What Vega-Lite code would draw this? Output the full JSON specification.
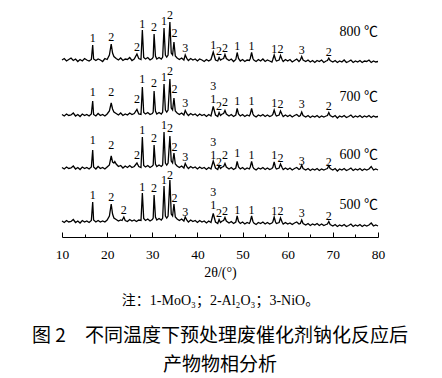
{
"$schema": "https://vega.github.io/schema/vega-lite/v6.json",
"width": 316, "height": 237,
"autosize": "none",
"padding": {"left": 62, "top": 0, "right": 64, "bottom": 141},
"background": "white",
"config": {"view": {"stroke": null}},
"title": {"text": ["图 2\u3000不同温度下预处理废催化剂钠化反应后", "产物物相分析"], "orient": "bottom", "anchor": "middle", "font": "Noto Sans CJK SC", "fontSize": 19, "fontWeight": "normal", "lineHeight": 29, "offset": 19, "color": "black"},
"datasets": {
"t800": [
{"x":10,"y":177},{"x":10.5,"y":178.5},{"x":11,"y":176},{"x":11.5,"y":177.5},{"x":12,"y":179},{"x":12.5,"y":176.5},{"x":13,"y":178},{"x":13.5,"y":175.5},{"x":14,"y":177.5},{"x":14.5,"y":176},{"x":15,"y":178.5},{"x":15.5,"y":177},{"x":16,"y":176},{"x":16.5,"y":177.5},{"x":16.8,"y":192},{"x":17,"y":178},{"x":17.5,"y":176.5},{"x":18,"y":178},{"x":18.5,"y":177},{"x":19,"y":175.5},{"x":19.5,"y":178.5},{"x":20,"y":177.5},{"x":20.5,"y":182},{"x":20.9,"y":193},{"x":21.2,"y":184},{"x":21.5,"y":180.5},{"x":22,"y":178.5},{"x":22.5,"y":177},{"x":23,"y":179},{"x":23.5,"y":176.5},{"x":24,"y":178},{"x":24.5,"y":177.5},{"x":25,"y":179.5},{"x":25.5,"y":176.5},{"x":26,"y":178},{"x":26.6,"y":183},{"x":27,"y":178.5},{"x":27.5,"y":177.5},{"x":27.8,"y":207},{"x":28.1,"y":179.5},{"x":28.5,"y":178},{"x":29,"y":179.5},{"x":29.5,"y":177},{"x":30,"y":178.5},{"x":30.2,"y":180},{"x":30.4,"y":203},{"x":30.7,"y":181},{"x":31,"y":178},{"x":31.5,"y":179.5},{"x":32,"y":178},{"x":32.3,"y":180},{"x":32.6,"y":209},{"x":32.9,"y":182},{"x":33.2,"y":180},{"x":33.5,"y":182},{"x":33.9,"y":215},{"x":34.2,"y":184},{"x":34.5,"y":182},{"x":34.8,"y":195},{"x":35.1,"y":181},{"x":35.5,"y":179},{"x":36,"y":177.5},{"x":36.5,"y":179},{"x":37,"y":177},{"x":37.3,"y":182},{"x":37.7,"y":178},{"x":38,"y":176.5},{"x":38.5,"y":178.5},{"x":39,"y":177},{"x":39.5,"y":178},{"x":40,"y":176},{"x":40.5,"y":178},{"x":41,"y":177},{"x":41.5,"y":175.5},{"x":42,"y":177.5},{"x":42.5,"y":176},{"x":43,"y":177.5},{"x":43.5,"y":185},{"x":44,"y":177},{"x":44.5,"y":176},{"x":44.8,"y":179.5},{"x":45.1,"y":177},{"x":45.5,"y":178},{"x":45.8,"y":178.5},{"x":46.1,"y":182.5},{"x":46.4,"y":178.5},{"x":47,"y":176.5},{"x":47.5,"y":178},{"x":48,"y":175.5},{"x":48.5,"y":177.5},{"x":48.8,"y":184.5},{"x":49.1,"y":178.5},{"x":49.5,"y":176},{"x":50,"y":177.5},{"x":50.5,"y":175.5},{"x":51,"y":177},{"x":51.5,"y":176.5},{"x":51.7,"y":178.5},{"x":52,"y":184.5},{"x":52.3,"y":178.5},{"x":52.5,"y":177},{"x":53,"y":175.5},{"x":53.5,"y":177.5},{"x":54,"y":176},{"x":54.5,"y":178},{"x":55,"y":175.5},{"x":55.5,"y":177},{"x":56,"y":176},{"x":56.5,"y":175},{"x":56.7,"y":177.5},{"x":57,"y":182},{"x":57.3,"y":177.5},{"x":57.5,"y":176},{"x":58.1,"y":177},{"x":58.4,"y":181.5},{"x":58.8,"y":177},{"x":59,"y":175.5},{"x":59.5,"y":177.5},{"x":60,"y":176},{"x":60.5,"y":177.5},{"x":61,"y":175},{"x":61.5,"y":176.5},{"x":62,"y":178},{"x":62.5,"y":175.5},{"x":62.8,"y":177},{"x":63.1,"y":180.5},{"x":63.4,"y":177},{"x":64,"y":175.5},{"x":64.5,"y":177},{"x":65,"y":175},{"x":65.5,"y":176.5},{"x":66,"y":174.5},{"x":66.5,"y":176.5},{"x":67,"y":175.5},{"x":67.5,"y":177},{"x":68,"y":174.5},{"x":68.5,"y":176},{"x":68.8,"y":176.5},{"x":69.1,"y":179},{"x":69.4,"y":176.5},{"x":70,"y":175},{"x":70.5,"y":176.5},{"x":71,"y":174.5},{"x":71.5,"y":176},{"x":72,"y":175},{"x":72.5,"y":177},{"x":73,"y":174.5},{"x":73.5,"y":175.5},{"x":74,"y":177},{"x":74.5,"y":174.5},{"x":75,"y":176},{"x":75.5,"y":175},{"x":76,"y":176.5},{"x":76.5,"y":174.5},{"x":77,"y":176},{"x":77.5,"y":175.5},{"x":78,"y":177},{"x":78.5,"y":174.5},{"x":79,"y":176},{"x":79.5,"y":175},{"x":80,"y":175.5}
],
"t700": [
{"x":10,"y":122.5},{"x":10.5,"y":121},{"x":11,"y":123},{"x":11.5,"y":121.5},{"x":12,"y":122},{"x":12.5,"y":124},{"x":13,"y":121},{"x":13.5,"y":122.5},{"x":14,"y":120.5},{"x":14.5,"y":123},{"x":15,"y":121.5},{"x":15.5,"y":122.5},{"x":16,"y":121},{"x":16.5,"y":123},{"x":16.8,"y":136},{"x":17,"y":122.5},{"x":17.5,"y":121},{"x":18,"y":123.5},{"x":18.5,"y":121.5},{"x":19,"y":122.5},{"x":19.5,"y":121},{"x":20,"y":123},{"x":20.5,"y":126},{"x":20.9,"y":134},{"x":21.2,"y":128},{"x":21.5,"y":125},{"x":22,"y":123.5},{"x":22.5,"y":122},{"x":23,"y":124},{"x":23.5,"y":121.5},{"x":24,"y":123},{"x":24.5,"y":122},{"x":25,"y":124},{"x":25.5,"y":122.5},{"x":26,"y":123.5},{"x":26.6,"y":127.5},{"x":27,"y":123},{"x":27.5,"y":122.5},{"x":27.8,"y":150},{"x":28.1,"y":124.5},{"x":28.5,"y":123},{"x":29,"y":124.5},{"x":29.5,"y":122.5},{"x":30,"y":123.5},{"x":30.2,"y":125},{"x":30.4,"y":146},{"x":30.7,"y":126},{"x":31,"y":123},{"x":31.5,"y":124.5},{"x":32,"y":123},{"x":32.3,"y":125},{"x":32.6,"y":153},{"x":32.9,"y":127},{"x":33.2,"y":125},{"x":33.5,"y":127},{"x":33.9,"y":158},{"x":34.2,"y":129},{"x":34.5,"y":127},{"x":34.8,"y":139},{"x":35.1,"y":126},{"x":35.5,"y":124},{"x":36,"y":122.5},{"x":36.5,"y":124},{"x":37,"y":122},{"x":37.3,"y":126.5},{"x":37.7,"y":123},{"x":38,"y":121.5},{"x":38.5,"y":123.5},{"x":39,"y":122},{"x":39.5,"y":123},{"x":40,"y":121},{"x":40.5,"y":123},{"x":41,"y":121.5},{"x":41.5,"y":122.5},{"x":42,"y":120.5},{"x":42.5,"y":122.5},{"x":43,"y":121},{"x":43.5,"y":130.5},{"x":44,"y":122},{"x":44.5,"y":120.5},{"x":44.8,"y":124.5},{"x":45.1,"y":121.5},{"x":45.5,"y":123},{"x":45.8,"y":123.5},{"x":46.1,"y":126.5},{"x":46.4,"y":123},{"x":47,"y":121},{"x":47.5,"y":122.5},{"x":48,"y":120.5},{"x":48.5,"y":122},{"x":48.8,"y":128.5},{"x":49.1,"y":123},{"x":49.5,"y":121},{"x":50,"y":122.5},{"x":50.5,"y":120.5},{"x":51,"y":122},{"x":51.5,"y":121},{"x":51.7,"y":123},{"x":52,"y":128.5},{"x":52.3,"y":123},{"x":52.5,"y":121.5},{"x":53,"y":120},{"x":53.5,"y":122},{"x":54,"y":121},{"x":54.5,"y":122.5},{"x":55,"y":120.5},{"x":55.5,"y":122},{"x":56,"y":120.5},{"x":56.5,"y":121.5},{"x":56.7,"y":122.5},{"x":57,"y":127},{"x":57.3,"y":122.5},{"x":57.5,"y":121},{"x":58.1,"y":122},{"x":58.4,"y":126},{"x":58.8,"y":122},{"x":59,"y":120.5},{"x":59.5,"y":122},{"x":60,"y":120.5},{"x":60.5,"y":122},{"x":61,"y":120},{"x":61.5,"y":121.5},{"x":62,"y":122.5},{"x":62.5,"y":120.5},{"x":62.8,"y":121.5},{"x":63.1,"y":125},{"x":63.4,"y":121.5},{"x":64,"y":120},{"x":64.5,"y":121.5},{"x":65,"y":119.5},{"x":65.5,"y":121},{"x":66,"y":120},{"x":66.5,"y":121.5},{"x":67,"y":119.5},{"x":67.5,"y":121},{"x":68,"y":120},{"x":68.5,"y":121},{"x":68.8,"y":121.5},{"x":69.1,"y":124.5},{"x":69.4,"y":121.5},{"x":70,"y":120},{"x":70.5,"y":121.5},{"x":71,"y":119},{"x":71.5,"y":121},{"x":72,"y":120},{"x":72.5,"y":121.5},{"x":73,"y":119.5},{"x":73.5,"y":120.5},{"x":74,"y":122},{"x":74.5,"y":119.5},{"x":75,"y":121},{"x":75.5,"y":120},{"x":76,"y":121.5},{"x":76.5,"y":119.5},{"x":77,"y":121},{"x":77.5,"y":120},{"x":78,"y":121.5},{"x":78.5,"y":119.5},{"x":79,"y":121},{"x":79.5,"y":120},{"x":80,"y":120.5}
],
"t600": [
{"x":10,"y":69.5},{"x":10.5,"y":68},{"x":11,"y":70},{"x":11.5,"y":68.5},{"x":12,"y":69},{"x":12.5,"y":71},{"x":13,"y":68},{"x":13.5,"y":69.5},{"x":14,"y":67.5},{"x":14.5,"y":70},{"x":15,"y":68.5},{"x":15.5,"y":69.5},{"x":16,"y":68},{"x":16.5,"y":70},{"x":16.8,"y":87},{"x":17,"y":70},{"x":17.5,"y":68},{"x":18,"y":70.5},{"x":18.5,"y":68.5},{"x":19,"y":69.5},{"x":19.5,"y":68},{"x":20,"y":70},{"x":20.5,"y":72},{"x":20.9,"y":81},{"x":21.2,"y":75},{"x":21.5,"y":74},{"x":21.7,"y":75.5},{"x":22,"y":73},{"x":22.5,"y":70.5},{"x":23,"y":71.5},{"x":23.5,"y":69},{"x":24,"y":71},{"x":24.5,"y":69.5},{"x":25,"y":71.5},{"x":25.5,"y":69.5},{"x":26,"y":70.5},{"x":26.6,"y":74},{"x":27,"y":70.5},{"x":27.5,"y":69.5},{"x":27.8,"y":100},{"x":28.1,"y":71.5},{"x":28.5,"y":70},{"x":29,"y":71.5},{"x":29.5,"y":69.5},{"x":30,"y":71},{"x":30.2,"y":72},{"x":30.4,"y":92},{"x":30.7,"y":73},{"x":31,"y":70.5},{"x":31.5,"y":72},{"x":32,"y":70.5},{"x":32.3,"y":72},{"x":32.6,"y":105},{"x":32.9,"y":74},{"x":33.2,"y":72},{"x":33.5,"y":74},{"x":33.9,"y":101},{"x":34.2,"y":76},{"x":34.5,"y":74},{"x":34.8,"y":84},{"x":35.1,"y":73},{"x":35.5,"y":71},{"x":36,"y":69.5},{"x":36.5,"y":71},{"x":37,"y":69},{"x":37.3,"y":73.5},{"x":37.7,"y":70},{"x":38,"y":68.5},{"x":38.5,"y":70.5},{"x":39,"y":69},{"x":39.5,"y":70},{"x":40,"y":68},{"x":40.5,"y":70},{"x":41,"y":68.5},{"x":41.5,"y":69.5},{"x":42,"y":67.5},{"x":42.5,"y":69.5},{"x":43,"y":68},{"x":43.5,"y":76},{"x":44,"y":69},{"x":44.5,"y":67.5},{"x":44.8,"y":71.5},{"x":45.1,"y":68.5},{"x":45.5,"y":70},{"x":45.8,"y":70.5},{"x":46.1,"y":73.5},{"x":46.4,"y":70},{"x":47,"y":68},{"x":47.5,"y":69.5},{"x":48,"y":67.5},{"x":48.5,"y":69},{"x":48.8,"y":75.5},{"x":49.1,"y":70},{"x":49.5,"y":68},{"x":50,"y":69.5},{"x":50.5,"y":67.5},{"x":51,"y":69},{"x":51.5,"y":68},{"x":51.7,"y":70},{"x":52,"y":75.5},{"x":52.3,"y":70},{"x":52.5,"y":68.5},{"x":53,"y":67},{"x":53.5,"y":69},{"x":54,"y":68},{"x":54.5,"y":69.5},{"x":55,"y":67.5},{"x":55.5,"y":69},{"x":56,"y":67.5},{"x":56.5,"y":68.5},{"x":56.7,"y":69.5},{"x":57,"y":75},{"x":57.3,"y":69.5},{"x":57.5,"y":68},{"x":58.1,"y":69},{"x":58.4,"y":73},{"x":58.8,"y":69},{"x":59,"y":67.5},{"x":59.5,"y":69},{"x":60,"y":67.5},{"x":60.5,"y":69},{"x":61,"y":67},{"x":61.5,"y":68.5},{"x":62,"y":69.5},{"x":62.5,"y":67.5},{"x":62.8,"y":68.5},{"x":63.1,"y":72},{"x":63.4,"y":68.5},{"x":64,"y":67},{"x":64.5,"y":68.5},{"x":65,"y":66.5},{"x":65.5,"y":68},{"x":66,"y":67},{"x":66.5,"y":68.5},{"x":67,"y":66.5},{"x":67.5,"y":68},{"x":68,"y":67},{"x":68.5,"y":68},{"x":68.8,"y":68.5},{"x":69.1,"y":71.5},{"x":69.4,"y":68.5},{"x":70,"y":67},{"x":70.5,"y":68.5},{"x":71,"y":66},{"x":71.5,"y":68},{"x":72,"y":67},{"x":72.5,"y":68.5},{"x":73,"y":66.5},{"x":73.5,"y":67.5},{"x":74,"y":69},{"x":74.5,"y":66.5},{"x":75,"y":68},{"x":75.5,"y":67},{"x":76,"y":68.5},{"x":76.5,"y":66.5},{"x":77,"y":68},{"x":77.5,"y":67},{"x":78,"y":68},{"x":78.5,"y":70.5},{"x":79,"y":67},{"x":79.5,"y":68},{"x":80,"y":67}
],
"t500": [
{"x":10,"y":16},{"x":10.5,"y":14.5},{"x":11,"y":16.5},{"x":11.5,"y":15},{"x":12,"y":15.5},{"x":12.5,"y":17.5},{"x":13,"y":14.5},{"x":13.5,"y":16},{"x":14,"y":14},{"x":14.5,"y":16.5},{"x":15,"y":15},{"x":15.5,"y":16},{"x":16,"y":14.5},{"x":16.5,"y":16.5},{"x":16.8,"y":35},{"x":17,"y":17},{"x":17.5,"y":15},{"x":18,"y":16.5},{"x":18.5,"y":15},{"x":19,"y":16},{"x":19.5,"y":15},{"x":20,"y":17},{"x":20.5,"y":21},{"x":20.9,"y":33},{"x":21.2,"y":23},{"x":21.5,"y":19},{"x":22,"y":17.5},{"x":22.5,"y":16},{"x":23,"y":17},{"x":23.3,"y":16.5},{"x":23.7,"y":20},{"x":24,"y":16.5},{"x":24.5,"y":15.5},{"x":25,"y":17.5},{"x":25.5,"y":16},{"x":26,"y":17},{"x":26.5,"y":15.5},{"x":27,"y":17},{"x":27.5,"y":16.5},{"x":27.8,"y":44},{"x":28.1,"y":18.5},{"x":28.5,"y":16.5},{"x":29,"y":18},{"x":29.5,"y":16},{"x":30,"y":17.5},{"x":30.2,"y":19},{"x":30.4,"y":42},{"x":30.7,"y":20},{"x":31,"y":17},{"x":31.5,"y":18.5},{"x":32,"y":17},{"x":32.3,"y":19},{"x":32.6,"y":51},{"x":32.9,"y":21},{"x":33.2,"y":19},{"x":33.5,"y":21},{"x":33.9,"y":57},{"x":34.2,"y":23},{"x":34.5,"y":21},{"x":34.8,"y":33},{"x":35.1,"y":20},{"x":35.5,"y":18},{"x":36,"y":16.5},{"x":36.5,"y":18},{"x":37,"y":16},{"x":37.3,"y":20},{"x":37.7,"y":16.5},{"x":38,"y":15},{"x":38.5,"y":17},{"x":39,"y":15.5},{"x":39.5,"y":16.5},{"x":40,"y":14.5},{"x":40.5,"y":16.5},{"x":41,"y":15},{"x":41.5,"y":16},{"x":42,"y":14},{"x":42.5,"y":16},{"x":43,"y":14.5},{"x":43.5,"y":23.5},{"x":44,"y":15},{"x":44.5,"y":13.5},{"x":44.8,"y":17.5},{"x":45.1,"y":14.5},{"x":45.5,"y":16},{"x":45.8,"y":16.5},{"x":46.1,"y":19.5},{"x":46.4,"y":16},{"x":47,"y":14},{"x":47.5,"y":15.5},{"x":48,"y":13.5},{"x":48.5,"y":15},{"x":48.8,"y":21},{"x":49.1,"y":15.5},{"x":49.5,"y":13.5},{"x":50,"y":15},{"x":50.5,"y":13},{"x":51,"y":14.5},{"x":51.5,"y":13.5},{"x":51.7,"y":15.5},{"x":52,"y":21},{"x":52.3,"y":15.5},{"x":52.5,"y":14},{"x":53,"y":12.5},{"x":53.5,"y":14.5},{"x":54,"y":13.5},{"x":54.5,"y":15},{"x":55,"y":13},{"x":55.5,"y":14.5},{"x":56,"y":13},{"x":56.5,"y":14},{"x":56.7,"y":15},{"x":57,"y":20},{"x":57.3,"y":15},{"x":57.5,"y":13.5},{"x":58.1,"y":14.5},{"x":58.4,"y":19},{"x":58.8,"y":14.5},{"x":59,"y":13},{"x":59.5,"y":14.5},{"x":60,"y":13},{"x":60.5,"y":14},{"x":61,"y":12.5},{"x":61.5,"y":14},{"x":62,"y":15},{"x":62.5,"y":13},{"x":62.8,"y":13.5},{"x":63.1,"y":17},{"x":63.4,"y":13.5},{"x":64,"y":12},{"x":64.5,"y":13.5},{"x":65,"y":11.5},{"x":65.5,"y":13},{"x":66,"y":12},{"x":66.5,"y":13.5},{"x":67,"y":11.5},{"x":67.5,"y":13},{"x":68,"y":11.5},{"x":68.5,"y":12.5},{"x":68.8,"y":13},{"x":69.1,"y":15.5},{"x":69.4,"y":12.5},{"x":70,"y":11},{"x":70.5,"y":12.5},{"x":71,"y":10.5},{"x":71.5,"y":12},{"x":72,"y":11},{"x":72.5,"y":12.5},{"x":73,"y":10.5},{"x":73.5,"y":11.5},{"x":74,"y":13},{"x":74.5,"y":10.5},{"x":75,"y":12},{"x":75.5,"y":11},{"x":76,"y":12.5},{"x":76.5,"y":10.5},{"x":77,"y":12},{"x":77.5,"y":11},{"x":78,"y":12},{"x":78.5,"y":14},{"x":79,"y":11},{"x":79.5,"y":12},{"x":80,"y":11}
],
"peaks": [
{"x":16.8,"y":199,"t":"1"},{"x":20.9,"y":200,"t":"2"},{"x":26.6,"y":190,"t":"2"},{"x":27.8,"y":213,"t":"1"},{"x":30.4,"y":210,"t":"2"},{"x":32.6,"y":216,"t":"1"},{"x":33.9,"y":222,"t":"2"},{"x":34.9,"y":204,"t":"2"},{"x":37.3,"y":189,"t":"3"},{"x":43.5,"y":192,"t":"1"},{"x":44.8,"y":186,"t":"2"},{"x":46.1,"y":189,"t":"2"},{"x":48.8,"y":191,"t":"1"},{"x":52.0,"y":191,"t":"1"},{"x":57.0,"y":188,"t":"1"},{"x":58.4,"y":188,"t":"2"},{"x":63.1,"y":187,"t":"3"},{"x":69.1,"y":185,"t":"2"},
{"x":16.8,"y":145,"t":"1"},{"x":20.9,"y":145,"t":"2"},{"x":26.6,"y":138,"t":"2"},{"x":27.8,"y":158,"t":"1"},{"x":30.4,"y":154,"t":"2"},{"x":32.6,"y":160,"t":"1"},{"x":33.9,"y":166,"t":"2"},{"x":34.9,"y":148,"t":"2"},{"x":37.3,"y":134,"t":"3"},{"x":43.5,"y":151,"t":"3"},{"x":43.5,"y":138,"t":"1"},{"x":44.8,"y":131,"t":"2"},{"x":46.1,"y":135,"t":"2"},{"x":48.8,"y":136,"t":"1"},{"x":52.0,"y":136,"t":"1"},{"x":57.0,"y":134,"t":"1"},{"x":58.4,"y":133,"t":"2"},{"x":63.1,"y":133,"t":"3"},{"x":69.1,"y":131,"t":"2"},
{"x":16.8,"y":97,"t":"1"},{"x":20.9,"y":92,"t":"2"},{"x":26.6,"y":82,"t":"2"},{"x":27.8,"y":107,"t":"1"},{"x":30.4,"y":99,"t":"2"},{"x":32.6,"y":112,"t":"1"},{"x":33.9,"y":109,"t":"2"},{"x":34.9,"y":90,"t":"2"},{"x":37.3,"y":80,"t":"3"},{"x":43.5,"y":95,"t":"3"},{"x":43.5,"y":82,"t":"1"},{"x":44.8,"y":75,"t":"2"},{"x":46.1,"y":82,"t":"2"},{"x":48.8,"y":84,"t":"1"},{"x":52.0,"y":82,"t":"1"},{"x":57.0,"y":82,"t":"1"},{"x":58.4,"y":79,"t":"2"},{"x":63.1,"y":76,"t":"3"},{"x":69.1,"y":75,"t":"2"},
{"x":16.8,"y":42,"t":"1"},{"x":20.9,"y":40,"t":"2"},{"x":23.7,"y":27,"t":"2"},{"x":27.8,"y":50,"t":"1"},{"x":30.4,"y":49,"t":"2"},{"x":32.6,"y":57,"t":"1"},{"x":33.9,"y":62,"t":"2"},{"x":34.9,"y":39,"t":"2"},{"x":37.3,"y":25,"t":"3"},{"x":43.5,"y":45,"t":"3"},{"x":43.5,"y":32,"t":"1"},{"x":44.8,"y":24,"t":"2"},{"x":46.1,"y":26,"t":"2"},{"x":48.8,"y":27,"t":"1"},{"x":52.0,"y":27,"t":"1"},{"x":57.0,"y":26,"t":"1"},{"x":58.4,"y":26,"t":"2"},{"x":63.1,"y":24,"t":"3"},{"x":69.1,"y":21,"t":"2"}
],
"temps": [
{"x":80,"y":205,"t":"800 ℃"},{"x":80,"y":140,"t":"700 ℃"},{"x":80,"y":82,"t":"600 ℃"},{"x":80,"y":32,"t":"500 ℃"}
]
},
"encoding": {
"x": {"field": "x", "type": "quantitative", "scale": {"domain": [10, 80], "nice": false, "zero": false},
"axis": {"values": [10,15,20,25,30,35,40,45,50,55,60,65,70,75,80], "labelExpr": "datum.value % 10 === 0 ? datum.label : ''", "tickSize": {"condition": {"test": "datum.value % 10 === 0", "value": -5}, "value": -3}, "grid": false, "domainColor": "black", "tickColor": "black", "labelColor": "black", "labelFont": "Liberation Serif, Times New Roman, serif", "labelFontSize": 13.5, "labelPadding": 15, "labelFlush": false, "title": ["2θ/(°)", "注：1-MoO₃；2-Al₂O₃；3-NiO。"], "titleFont": "Liberation Serif, Noto Sans CJK SC", "titleFontSize": 14, "titleFontWeight": "normal", "titleColor": "black", "titleLineHeight": 28, "titlePadding": 5}},
"y": {"field": "y", "type": "quantitative", "scale": {"domain": [0, 237]}, "axis": null}
},
"layer": [
{"data": {"name": "t800"}, "mark": {"type": "line", "color": "black", "strokeWidth": 1.3}},
{"data": {"name": "t700"}, "mark": {"type": "line", "color": "black", "strokeWidth": 1.3}},
{"data": {"name": "t600"}, "mark": {"type": "line", "color": "black", "strokeWidth": 1.3}},
{"data": {"name": "t500"}, "mark": {"type": "line", "color": "black", "strokeWidth": 1.3}},
{"data": {"name": "peaks"}, "mark": {"type": "text", "font": "Liberation Serif, Times New Roman, serif", "fontSize": 12, "baseline": "middle", "color": "black"}, "encoding": {"text": {"field": "t"}}},
{"data": {"name": "temps"}, "mark": {"type": "text", "font": "Liberation Serif, Noto Sans CJK SC", "fontSize": 14, "align": "right", "baseline": "middle", "color": "black"}, "encoding": {"text": {"field": "t"}}}
]
}
